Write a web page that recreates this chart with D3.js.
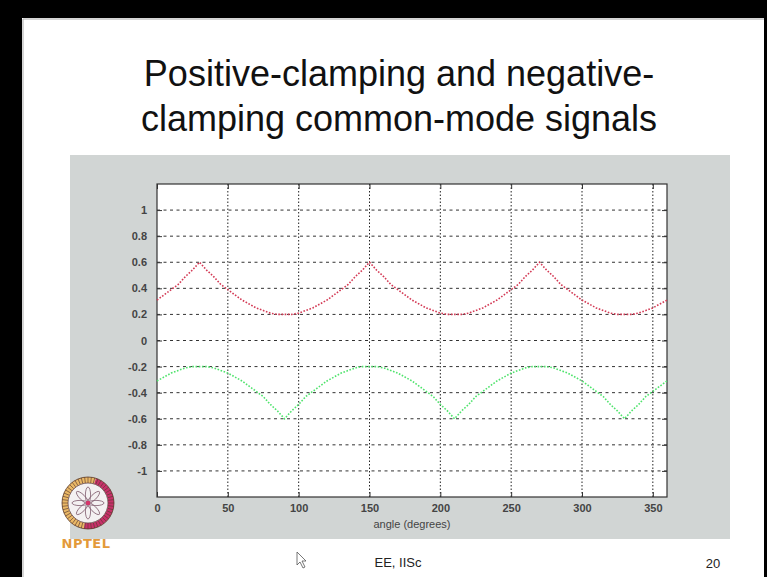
<!DOCTYPE html>
<html>
<head>
<meta charset="utf-8">
<script src="https://cdn.jsdelivr.net/npm/d3@7"></script>
<style>
  html, body { margin: 0; padding: 0; background: #fff; }
  svg { display: block; }
</style>
</head>
<body>
<div id="slide"></div>
<script>
// Sample angles (degrees) and the two common-mode signals
var angles = [0,5,10,15,20,25,30,35,40,45,50,55,60,65,70,75,80,85,90,95,100,105,110,115,120,
  125,130,135,140,145,150,155,160,165,170,175,180,185,190,195,200,205,210,215,220,225,230,235,240,
  245,250,255,260,265,270,275,280,285,290,295,300,305,310,315,320,325,330,335,340,345,350,355,360];

var posClamp = [.31,.35,.39,.43,.49,.54,.60,.54,.49,.43,.39,.35,.31,.28,.25,.23,.21,.20,.20,.20,.21,.23,.25,.28,.31,
  .35,.39,.43,.49,.54,.60,.54,.49,.43,.39,.35,.31,.28,.25,.23,.21,.20,.20,.20,.21,.23,.25,.28,.31,
  .35,.39,.43,.49,.54,.60,.54,.49,.43,.39,.35,.31,.28,.25,.23,.21,.20,.20,.20,.21,.23,.25,.28,.31];

var negClamp = [-.31,-.28,-.25,-.23,-.21,-.20,-.20,-.20,-.21,-.23,-.25,-.28,-.31,-.35,-.39,-.43,-.49,-.54,-.60,-.54,-.49,-.43,-.39,-.35,-.31,
  -.28,-.25,-.23,-.21,-.20,-.20,-.20,-.21,-.23,-.25,-.28,-.31,-.35,-.39,-.43,-.49,-.54,-.60,-.54,-.49,-.43,-.39,-.35,-.31,
  -.28,-.25,-.23,-.21,-.20,-.20,-.20,-.21,-.23,-.25,-.28,-.31,-.35,-.39,-.43,-.49,-.54,-.60,-.54,-.49,-.43,-.39,-.35,-.31];

var xTicks = [0,50,100,150,200,250,300,350];
var yTicks = [1,0.8,0.6,0.4,0.2,0,-0.2,-0.4,-0.6,-0.8,-1];
var yTickLabels = ["1","0.8","0.6","0.4","0.2","0","-0.2","-0.4","-0.6","-0.8","-1"];

var W = 767, H = 577;

var svg = d3.select("#slide").append("svg")
    .attr("width", W)
    .attr("height", H);

// Slide frame (video border)
svg.append("rect").attr("x", 0).attr("y", 0).attr("width", W).attr("height", H).attr("fill", "#fff");
svg.append("rect").attr("x", 0).attr("y", 0).attr("width", W).attr("height", 18).attr("fill", "#000");
svg.append("rect").attr("x", 0).attr("y", 0).attr("width", 22).attr("height", H).attr("fill", "#000");
svg.append("rect").attr("x", 764).attr("y", 0).attr("width", 3).attr("height", H).attr("fill", "#000");
svg.append("line").attr("x1", 23).attr("x2", 764).attr("y1", 19).attr("y2", 19).attr("stroke", "#aaa");
svg.append("line").attr("x1", 23).attr("x2", 23).attr("y1", 19).attr("y2", H).attr("stroke", "#aaa");

// Title
var title = svg.append("text")
    .attr("text-anchor", "middle")
    .attr("font-family", "Liberation Sans, Arial, sans-serif")
    .attr("font-size", 36)
    .attr("fill", "#111");
title.append("tspan").attr("x", 399).attr("y", 86).text("Positive-clamping and negative-");
title.append("tspan").attr("x", 399).attr("y", 131).text("clamping common-mode signals");

// Gray figure panel
svg.append("rect")
    .attr("x", 70).attr("y", 155)
    .attr("width", 660).attr("height", 384)
    .attr("fill", "#d1d5d4");

// Plot area
var margin = {left: 157, top: 184},
    width = 510,
    height = 313;

var x = d3.scaleLinear().domain([0, 360]).range([0, width]);
var y = d3.scaleLinear().domain([-1.2, 1.2]).range([height, 0]);

var g = svg.append("g")
    .attr("transform", "translate(" + margin.left + "," + margin.top + ")");

g.append("rect")
    .attr("width", width).attr("height", height)
    .attr("fill", "#fff");

// Grid lines (dotted, matlab style)
g.selectAll(".vgrid")
    .data(xTicks.slice(1))
    .enter().append("line")
    .attr("class", "vgrid")
    .attr("x1", function(d) { return x(d); })
    .attr("x2", function(d) { return x(d); })
    .attr("y1", 0).attr("y2", height)
    .attr("stroke", "#222")
    .attr("stroke-width", 1)
    .attr("stroke-dasharray", "1.5,2");

g.selectAll(".hgrid")
    .data(yTicks)
    .enter().append("line")
    .attr("class", "hgrid")
    .attr("x1", 0).attr("x2", width)
    .attr("y1", function(d) { return y(d); })
    .attr("y2", function(d) { return y(d); })
    .attr("stroke", "#333")
    .attr("stroke-width", 1)
    .attr("stroke-dasharray", "3,3.5");

// Axes with inward ticks on all sides
var tickStyle = function(sel) {
    sel.select(".domain").remove();
    sel.selectAll(".tick line").attr("stroke", "#333");
    sel.selectAll(".tick text")
        .attr("font-family", "Liberation Sans, Arial, sans-serif")
        .attr("font-size", 11)
        .attr("font-weight", "bold")
        .attr("fill", "#444");
};

g.append("g")
    .attr("transform", "translate(0," + height + ")")
    .call(d3.axisBottom(x).tickValues(xTicks).tickSizeInner(-5).tickPadding(7).tickFormat(d3.format("d")))
    .call(tickStyle);

g.append("g")
    .call(d3.axisTop(x).tickValues(xTicks).tickSizeInner(-5).tickFormat(""))
    .call(tickStyle);

g.append("g")
    .call(d3.axisLeft(y).tickValues(yTicks).tickSizeInner(-5).tickPadding(10)
        .tickFormat(function(d, i) { return yTickLabels[i]; }))
    .call(tickStyle);

g.append("g")
    .attr("transform", "translate(" + width + ",0)")
    .call(d3.axisRight(y).tickValues(yTicks).tickSizeInner(-5).tickFormat(""))
    .call(tickStyle);

// Box
g.append("rect")
    .attr("width", width).attr("height", height)
    .attr("fill", "none")
    .attr("stroke", "#333")
    .attr("stroke-width", 1.2);

// Curves
var line = function(vals) {
    return d3.line()
        .x(function(d, i) { return x(angles[i]); })
        .y(function(d) { return y(d); })(vals);
};

g.append("path")
    .attr("d", line(posClamp))
    .attr("fill", "none")
    .attr("stroke", "#d33a55")
    .attr("stroke-width", 1.6)
    .attr("stroke-dasharray", "1.6,1.6");

g.append("path")
    .attr("d", line(negClamp))
    .attr("fill", "none")
    .attr("stroke", "#4fe36c")
    .attr("stroke-width", 1.6)
    .attr("stroke-dasharray", "1.6,1.6");

// X label
g.append("text")
    .attr("x", width / 2)
    .attr("y", height + 31)
    .attr("text-anchor", "middle")
    .attr("font-family", "Liberation Sans, Arial, sans-serif")
    .attr("font-size", 11)
    .attr("fill", "#444")
    .text("angle (degrees)");

// Footer
svg.append("text")
    .attr("x", 398).attr("y", 567)
    .attr("text-anchor", "middle")
    .attr("font-family", "Liberation Sans, Arial, sans-serif")
    .attr("font-size", 13)
    .attr("fill", "#222")
    .text("EE, IISc");

svg.append("text")
    .attr("x", 713).attr("y", 568)
    .attr("text-anchor", "middle")
    .attr("font-family", "Liberation Sans, Arial, sans-serif")
    .attr("font-size", 13)
    .attr("fill", "#222")
    .text("20");

// Mouse cursor
svg.append("path")
    .attr("d", "M297,552 L297,565 L300,562 L303,568 L305,567 L302,561 L306,561 Z")
    .attr("fill", "#fff")
    .attr("stroke", "#555")
    .attr("stroke-width", 0.8);

// NPTEL logo
var logo = svg.append("g").attr("transform", "translate(88,503)");
var arcGen = d3.arc().innerRadius(20).outerRadius(26);
logo.append("path")
    .attr("d", arcGen({startAngle: -Math.PI * 0.95, endAngle: Math.PI * 0.1}))
    .attr("fill", "#eab866");
logo.append("path")
    .attr("d", arcGen({startAngle: Math.PI * 0.1, endAngle: Math.PI * 1.05}))
    .attr("fill", "#c8306a");
logo.selectAll(".spoke")
    .data(d3.range(48))
    .enter().append("line")
    .attr("class", "spoke")
    .attr("y1", -20).attr("y2", -26)
    .attr("transform", function(d) { return "rotate(" + d * 7.5 + ")"; })
    .attr("stroke", "#5a3a30")
    .attr("stroke-width", 0.6);
logo.append("circle").attr("r", 26).attr("fill", "none").attr("stroke", "#5a3a2a").attr("stroke-width", 0.8);
logo.append("circle").attr("r", 20).attr("fill", "#f4f1f2").attr("stroke", "#6a4a4a").attr("stroke-width", 0.8);
logo.selectAll(".petal")
    .data(d3.range(8))
    .enter().append("ellipse")
    .attr("class", "petal")
    .attr("rx", 2.6).attr("ry", 8)
    .attr("cy", -8)
    .attr("transform", function(d) { return "rotate(" + d * 45 + ")"; })
    .attr("fill", "none")
    .attr("stroke", "#8a6a7a")
    .attr("stroke-width", 0.9);
logo.append("circle").attr("r", 2.2).attr("fill", "#d8336a");
svg.append("text")
    .attr("x", 86).attr("y", 548)
    .attr("text-anchor", "middle")
    .attr("font-family", "DejaVu Sans, sans-serif")
    .attr("font-weight", "bold")
    .attr("font-size", 13)
    .attr("letter-spacing", 0.5)
    .attr("fill", "#e39a3a")
    .text("NPTEL");
</script>
</body>
</html>
